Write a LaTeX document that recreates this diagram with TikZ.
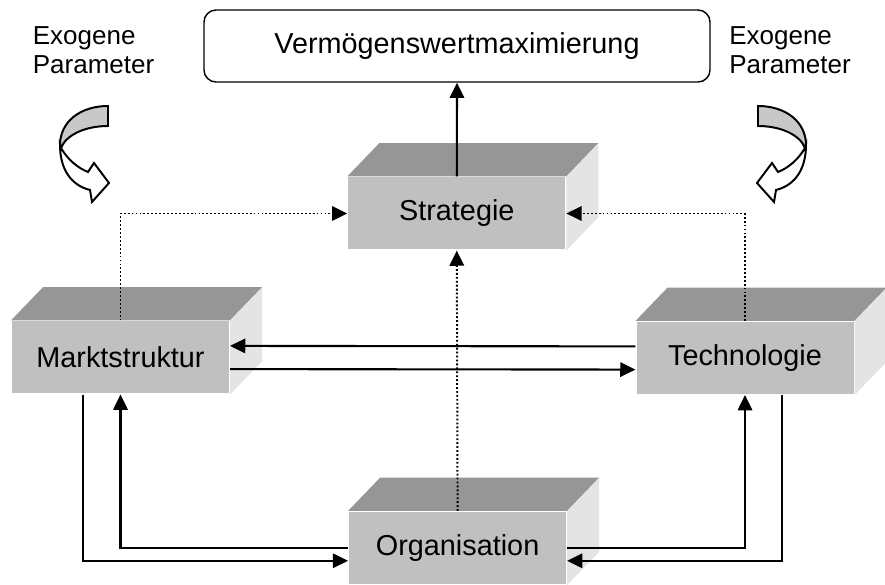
\documentclass[tikz,border=0pt]{standalone}
\usepackage{fontspec}
\setmainfont{Liberation Sans}
\usetikzlibrary{arrows.meta,calc,positioning}
\definecolor{front}{HTML}{C0C0C0}
\definecolor{topside}{HTML}{969696}
\definecolor{rightside}{HTML}{E4E4E4}
\definecolor{band}{HTML}{C8C8C8}
\tikzset{
    -{Triangle[length=0.38cm,width=0.36cm]},
    block/.style ={fill=front, minimum width=5.425cm, minimum height=1.8cm, inner sep=0pt, font=\fontsize{20.5}{24}\selectfont},
    goal/.style = {draw, line width=1pt, rounded corners=0.3cm, minimum width=12.65cm, minimum height=1.8cm, font=\fontsize{20.5}{24}\selectfont},
    exo/.style = {align=left, inner sep=0pt, font=\fontsize{18.5}{20.6}\selectfont},
    influence/.style={line width=1.4pt, dash pattern=on 1.3pt off 1.5pt},
    exoarrow/.pic={
        \begin{scope}[x=0.025cm,y=-0.025cm,line width=1.4pt]
        \filldraw[fill=band] (23,-44) -- (23,-24) .. controls (0,-24) and (-19,-15) .. (-24,-2)
            -- (-25,-5) .. controls (-25,-28) and (-5,-44) .. (23,-44) -- cycle;
        \filldraw[fill=white] (-24,-2) .. controls (-17,10) and (-7,18) .. (3,22) -- (9,13) -- (24,33)
            -- (7,52) -- (5,40) .. controls (-15,35) and (-25,18) .. (-25,-5) -- cycle;
        \end{scope}
    }
}

\begin{document}
\begin{tikzpicture}[line width=1.5pt]
    \useasboundingbox (0,0) rectangle (22.125,14.625);

    \node[goal] (ziel) at (11.425,13.475) {Vermögenswertmaximierung};
    \node[exo] (exol) at (2.34,13.375) {Exogene\\Parameter};
    \node[exo] (exor) at (19.75,13.375) {Exogene\\Parameter};

    \node[block] (strat) at (11.42,9.2875) {Strategie};
    \node[block] (markt) at (3.0125,5.6875) {Marktstruktur};
    \node[block] (techno) at (18.625,5.675) {Technologie};
    \node[block] (org) at (11.44,0.925) {Organisation};

    % 3D faces of the blocks
    \foreach \n in {strat,markt,techno,org}{
        \fill[topside] (\n.north west) -- ++(0.8,0.83) -- ($(\n.north east)+(0.8,0.83)$) -- (\n.north east) -- cycle;
        \fill[rightside] (\n.north east) -- ++(0.8,0.83) -- ($(\n.south east)+(0.8,0.83)$) -- (\n.south east) -- cycle;
    }

    \pic at (2.125,10.875) {exoarrow};
    \pic[xscale=-1] at (19.525,10.875) {exoarrow};

    \draw (strat.north) -- (ziel.south);
    \draw[influence] (org.north) -- (strat.south);
    \draw[influence] (markt.north) |- (strat.west);
    \draw[influence] (techno.north) |- (strat.east);

    \draw ([yshift=2.9mm]techno.west) -- ([yshift=2.9mm]markt.east);
    \draw ([yshift=-2.9mm]markt.east) -- ([yshift=-2.9mm]techno.west);

    \draw ([xshift=-9.4mm]markt.south) |- ([yshift=-3.2mm]org.west);
    \draw (org.west) -| (markt.south);
    \draw (org.east) -| (techno.south);
    \draw ([xshift=9.25mm]techno.south) |- ([yshift=-3.2mm]org.east);
\end{tikzpicture}
\end{document}
